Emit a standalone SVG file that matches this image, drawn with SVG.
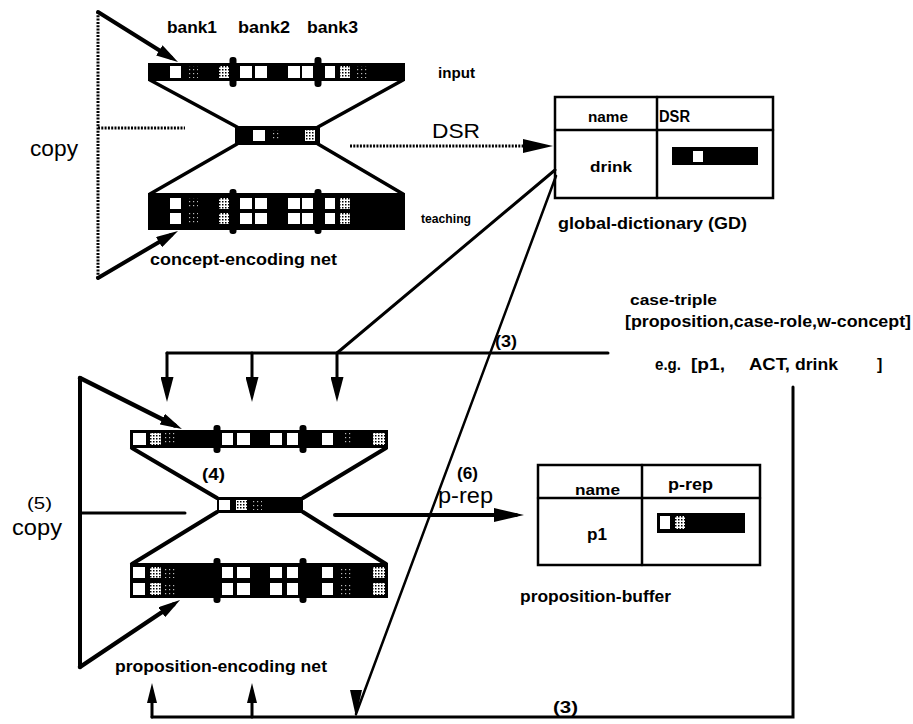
<svg xmlns="http://www.w3.org/2000/svg" width="913" height="724" viewBox="0 0 913 724">
<style>
text{font-family:"Liberation Sans",Arial,Helvetica,sans-serif;fill:#000;font-weight:bold}
.reg{font-weight:normal}
.ln{stroke:#000;fill:none;stroke-linecap:round}
.dot{stroke-dasharray:2 1.3;stroke-linecap:butt}
.bar{fill:#000}
.w{fill:#fff}
.sh{fill:url(#shade)}
.fa{fill:url(#faint)}
.tbl{fill:#fff;stroke:#000;stroke-width:2.5}
</style>
<defs>
<pattern id="shade" width="3" height="3" patternUnits="userSpaceOnUse"><rect width="3" height="3" fill="#fff"/><rect width="1.5" height="1.5" fill="#000"/></pattern>
<pattern id="faint" width="4" height="4" patternUnits="userSpaceOnUse"><rect width="4" height="4" fill="#000"/><rect x="1" y="1" width="1.2" height="1.2" fill="#bbb"/></pattern>
<marker id="ah" markerUnits="userSpaceOnUse" viewBox="0 0 22 12" refX="14" refY="6" markerWidth="22" markerHeight="12" orient="auto"><path d="M0,0 L22,6 L0,12 z"/></marker>
<marker id="ahd" markerUnits="userSpaceOnUse" viewBox="0 0 25 13" refX="17" refY="6.5" markerWidth="25" markerHeight="13" orient="auto"><path d="M0,0 L25,6.5 L0,13 z"/></marker>
<marker id="ahb" markerUnits="userSpaceOnUse" viewBox="0 0 30 14" refX="22" refY="7" markerWidth="30" markerHeight="14" orient="auto"><path d="M0,0 L30,7 L0,14 z"/></marker>
<marker id="ahs" markerUnits="userSpaceOnUse" viewBox="0 0 20 10" refX="12" refY="5" markerWidth="20" markerHeight="10" orient="auto"><path d="M0,0 L20,5 L0,10 z"/></marker>
</defs>

<g id="concept-encoding-net">
  <path class="ln dot" stroke-width="3" d="M98,12 V278 M98,128 H185"/>
  <path class="ln" stroke-width="4" d="M98,12 L171.2,57.8" marker-end="url(#ah)"/>
  <path class="ln" stroke-width="4" d="M98,278 L171.1,235" marker-end="url(#ah)"/>
  <path class="ln" stroke-width="3.5" d="M150,80 L237,127 M403,80 L318,127 M237,144 L150,194 M318,144 L403,194"/>
  <rect class="bar" x="148" y="63" width="257" height="18"/>
  <rect class="bar" x="229.5" y="57" width="7" height="30" rx="3"/>
  <rect class="bar" x="314.5" y="57" width="7" height="30" rx="3"/>
  <rect class="w" x="170" y="66" width="11" height="12"/>
  <rect class="fa" x="187" y="66" width="11" height="12"/>
  <rect class="sh" x="219" y="66" width="10" height="12"/>
  <rect class="w" x="240" y="66" width="12" height="12"/>
  <rect class="w" x="255" y="66" width="12" height="12"/>
  <rect class="w" x="288" y="66" width="12" height="12"/>
  <rect class="w" x="302" y="66" width="11" height="12"/>
  <rect class="w" x="325" y="66" width="10" height="12"/>
  <rect class="sh" x="340" y="66" width="10" height="12"/>
  <rect class="fa" x="357" y="66" width="10" height="12"/>
  <rect class="bar" x="235" y="126" width="85" height="19"/>
  <rect class="w" x="253" y="130" width="12" height="11"/>
  <rect class="fa" x="271" y="130" width="10" height="11"/>
  <rect class="sh" x="305" y="130" width="10" height="11"/>
  <rect class="bar" x="148" y="193" width="257" height="37"/>
  <rect class="bar" x="229.5" y="189" width="7" height="45" rx="3"/>
  <rect class="bar" x="314.5" y="189" width="7" height="45" rx="3"/>
  <g>
    <rect class="w" x="170" y="198" width="11" height="11"/><rect class="w" x="170" y="213" width="11" height="11"/>
    <rect class="fa" x="187" y="198" width="11" height="11"/><rect class="fa" x="187" y="213" width="11" height="11"/>
    <rect class="sh" x="219" y="198" width="10" height="11"/><rect class="sh" x="219" y="213" width="10" height="11"/>
    <rect class="w" x="240" y="198" width="12" height="11"/><rect class="w" x="240" y="213" width="12" height="11"/>
    <rect class="w" x="255" y="198" width="12" height="11"/><rect class="w" x="255" y="213" width="12" height="11"/>
    <rect class="w" x="288" y="198" width="12" height="11"/><rect class="w" x="288" y="213" width="12" height="11"/>
    <rect class="w" x="302" y="198" width="11" height="11"/><rect class="w" x="302" y="213" width="11" height="11"/>
    <rect class="w" x="325" y="198" width="10" height="11"/><rect class="w" x="325" y="213" width="10" height="11"/>
    <rect class="sh" x="340" y="198" width="10" height="11"/><rect class="sh" x="340" y="213" width="10" height="11"/>
  </g>
  <text x="167" y="33" font-size="16" textLength="50" lengthAdjust="spacingAndGlyphs">bank1</text>
  <text x="238" y="33" font-size="16" textLength="52" lengthAdjust="spacingAndGlyphs">bank2</text>
  <text x="307" y="33" font-size="16" textLength="51" lengthAdjust="spacingAndGlyphs">bank3</text>
  <text x="438" y="78" font-size="14" textLength="37" lengthAdjust="spacingAndGlyphs">input</text>
  <text x="421" y="223" font-size="13" textLength="50" lengthAdjust="spacingAndGlyphs">teaching</text>
  <text x="150" y="265" font-size="17" textLength="187" lengthAdjust="spacingAndGlyphs">concept-encoding net</text>
  <text class="reg" x="30" y="156" font-size="22" textLength="48" lengthAdjust="spacingAndGlyphs">copy</text>
</g>

<g id="global-dictionary">
  <rect class="tbl" x="555" y="97" width="218" height="101"/>
  <path class="ln" stroke-width="2.5" d="M555,130 H773 M657,97 V198"/>
  <text x="588" y="122" font-size="14" textLength="40" lengthAdjust="spacingAndGlyphs">name</text>
  <text x="659" y="122" font-size="16" textLength="31" lengthAdjust="spacingAndGlyphs">DSR</text>
  <text x="590" y="172" font-size="15" textLength="42" lengthAdjust="spacingAndGlyphs">drink</text>
  <rect class="bar" x="672" y="147" width="86" height="18"/>
  <rect class="w" x="693" y="151" width="10" height="11"/>
  <text x="558" y="229" font-size="17" textLength="189" lengthAdjust="spacingAndGlyphs">global-dictionary (GD)</text>
</g>

<g id="case-triple">
  <text x="630" y="305" font-size="15" textLength="87" lengthAdjust="spacingAndGlyphs">case-triple</text>
  <text x="625" y="327" font-size="16" textLength="286" lengthAdjust="spacingAndGlyphs">[proposition,case-role,w-concept]</text>
  <text x="655" y="370" font-size="16" textLength="26" lengthAdjust="spacingAndGlyphs">e.g.</text>
  <text x="691" y="370" font-size="16" textLength="34" lengthAdjust="spacingAndGlyphs">[p1,</text>
  <text x="749" y="370" font-size="16" textLength="41" lengthAdjust="spacingAndGlyphs">ACT,</text>
  <text x="795" y="370" font-size="16" textLength="43" lengthAdjust="spacingAndGlyphs">drink</text>
  <text x="877" y="370" font-size="16">]</text>
</g>

<g id="proposition-encoding-net">
  <path class="ln" stroke-width="4" d="M80,378 V667"/>
  <path class="ln" stroke-width="3" d="M80,513 H185"/>
  <path class="ln" stroke-width="4.5" d="M80,378 L174.8,425.4" marker-end="url(#ah)"/>
  <path class="ln" stroke-width="4.5" d="M80,667 L173.4,604.5" marker-end="url(#ah)"/>
  <path class="ln" stroke-width="4" d="M132,448 L217,498 M386,448 L303,498 M217,512 L132,564 M303,512 L386,564"/>
  <rect class="bar" x="130" y="430" width="258" height="18"/>
  <rect class="bar" x="213.5" y="425" width="7" height="28" rx="3"/>
  <rect class="bar" x="299.5" y="425" width="7" height="28" rx="3"/>
  <rect class="w" x="133" y="433" width="13" height="12"/>
  <rect class="sh" x="150" y="433" width="11" height="12"/>
  <rect class="fa" x="165" y="433" width="11" height="12"/>
  <rect class="w" x="222" y="433" width="11" height="12"/>
  <rect class="w" x="237" y="433" width="13" height="12"/>
  <rect class="w" x="270" y="433" width="12" height="12"/>
  <rect class="w" x="287" y="433" width="11" height="12"/>
  <rect class="w" x="322" y="433" width="11" height="12"/>
  <rect class="fa" x="343" y="433" width="10" height="12"/>
  <rect class="sh" x="373" y="433" width="12" height="12"/>
  <rect class="bar" x="217" y="497" width="86" height="16"/>
  <rect class="w" x="219" y="500" width="11" height="10"/>
  <rect class="sh" x="236" y="500" width="11" height="10"/>
  <rect class="fa" x="251" y="500" width="11" height="10"/>
  <rect class="bar" x="130" y="563" width="258" height="35"/>
  <rect class="bar" x="213.5" y="558" width="7" height="45" rx="3"/>
  <rect class="bar" x="299.5" y="558" width="7" height="45" rx="3"/>
  <g>
    <rect class="w" x="133" y="567" width="12" height="11"/><rect class="w" x="133" y="583" width="12" height="12"/>
    <rect class="sh" x="150" y="567" width="11" height="11"/><rect class="sh" x="150" y="583" width="11" height="12"/>
    <rect class="fa" x="165" y="567" width="11" height="11"/><rect class="fa" x="165" y="583" width="11" height="12"/>
    <rect class="w" x="222" y="567" width="11" height="11"/><rect class="w" x="222" y="583" width="11" height="12"/>
    <rect class="w" x="237" y="567" width="13" height="11"/><rect class="w" x="237" y="583" width="13" height="12"/>
    <rect class="w" x="270" y="567" width="12" height="11"/><rect class="w" x="270" y="583" width="12" height="12"/>
    <rect class="w" x="287" y="567" width="11" height="11"/><rect class="w" x="287" y="583" width="11" height="12"/>
    <rect class="w" x="322" y="567" width="11" height="11"/><rect class="w" x="322" y="583" width="11" height="12"/>
    <rect class="fa" x="340" y="567" width="11" height="11"/><rect class="fa" x="340" y="583" width="11" height="12"/>
    <rect class="sh" x="373" y="567" width="12" height="11"/><rect class="sh" x="373" y="583" width="12" height="12"/>
  </g>
  <text x="202" y="480" font-size="17" textLength="23" lengthAdjust="spacingAndGlyphs">(4)</text>
  <text class="reg" x="27" y="509" font-size="17" textLength="25" lengthAdjust="spacingAndGlyphs">(5)</text>
  <text class="reg" x="12" y="535" font-size="22" textLength="50" lengthAdjust="spacingAndGlyphs">copy</text>
  <text x="115" y="672" font-size="17" textLength="212" lengthAdjust="spacingAndGlyphs">proposition-encoding net</text>
</g>

<g id="proposition-buffer">
  <rect class="tbl" x="538" y="465" width="222" height="100"/>
  <path class="ln" stroke-width="2.5" d="M538,498 H760 M642,465 V565"/>
  <text x="575" y="495" font-size="14" textLength="45" lengthAdjust="spacingAndGlyphs">name</text>
  <text x="668" y="490" font-size="16" textLength="45" lengthAdjust="spacingAndGlyphs">p-rep</text>
  <text x="587" y="540" font-size="16" textLength="20" lengthAdjust="spacingAndGlyphs">p1</text>
  <rect class="bar" x="657" y="513" width="88" height="20"/>
  <rect class="w" x="660" y="516" width="10" height="13"/>
  <rect class="sh" x="675" y="516" width="10" height="13"/>
  <text x="520" y="602" font-size="16" textLength="151" lengthAdjust="spacingAndGlyphs">proposition-buffer</text>
</g>

<g id="connectors">
  <path class="ln dot" stroke-width="3" d="M350,146 H545" marker-end="url(#ahb)"/>
  <text class="reg" x="432" y="138" font-size="21" textLength="48" lengthAdjust="spacingAndGlyphs">DSR</text>
  <path class="ln" stroke-width="3" d="M555,170 L337,353"/>
  <path class="ln" stroke-width="2.5" d="M556,176 L356,714"/>
  <polygon points="350,690 362,690 356,717"/>
  <path class="ln" stroke-width="3" d="M167,353 H608"/>
  <path class="ln" stroke-width="3" d="M167,353 V394" marker-end="url(#ahd)"/>
  <path class="ln" stroke-width="3" d="M252,353 V394" marker-end="url(#ahd)"/>
  <path class="ln" stroke-width="3" d="M337,353 V394" marker-end="url(#ahd)"/>
  <text x="495" y="347" font-size="16" textLength="22" lengthAdjust="spacingAndGlyphs">(3)</text>
  <path class="ln" stroke-width="3" d="M793,387 V717 H152"/>
  <path class="ln" stroke-width="3" d="M152,717 V691" marker-end="url(#ahs)"/>
  <path class="ln" stroke-width="3" d="M252,717 V691" marker-end="url(#ahs)"/>
  <text x="553" y="713" font-size="17" textLength="25" lengthAdjust="spacingAndGlyphs">(3)</text>
  <path class="ln" stroke-width="4" d="M335,515 H516" marker-end="url(#ahb)"/>
  <text x="457" y="479" font-size="17" textLength="21" lengthAdjust="spacingAndGlyphs">(6)</text>
  <text class="reg" x="438" y="503" font-size="22" textLength="55" lengthAdjust="spacingAndGlyphs">p-rep</text>
</g>
</svg>
